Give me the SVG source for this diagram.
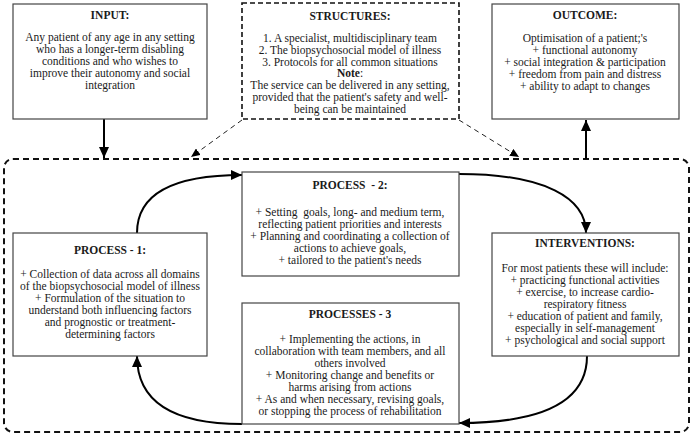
<svg xmlns="http://www.w3.org/2000/svg" width="692" height="436" viewBox="0 0 692 436">
<style>
text{font-family:"Liberation Serif","Times New Roman",serif;font-size:11.5px;fill:#1a1a1a;text-anchor:middle;white-space:pre}
.t{font-weight:bold}
.box{fill:#fff;stroke:#444;stroke-width:1.2}
.dbox{fill:#fff;stroke:#111;stroke-width:1.6;stroke-dasharray:5 3}
.outer{fill:none;stroke:#111;stroke-width:2;stroke-dasharray:6 4}
.c{fill:none;stroke:#000;stroke-width:2}
.d{fill:none;stroke:#222;stroke-width:1;stroke-dasharray:5 4}
</style>
<defs>
<marker id="ah" markerUnits="userSpaceOnUse" markerWidth="12" markerHeight="10" refX="11" refY="5" orient="auto">
<path d="M0,0 L11,5 L0,10 Z" fill="#000"/>
</marker>
<marker id="ahs" markerUnits="userSpaceOnUse" markerWidth="10" markerHeight="8" refX="9" refY="4" orient="auto">
<path d="M0,0 L9,4 L0,8 Z" fill="#000"/>
</marker>
</defs>

<rect id="system" class="outer" x="4" y="159" width="685" height="273" rx="9"/>

<g id="connectors">
<path class="c" d="M104,119 L104,158" marker-end="url(#ah)"/>
<path class="c" d="M586,159 L586,120" marker-end="url(#ah)"/>
<path class="d" d="M242,120 L191,157" marker-end="url(#ahs)"/>
<path class="d" d="M459,120 L519,157" marker-end="url(#ahs)"/>
<path class="c" d="M137,233 C137,195 170,175 242,175" marker-end="url(#ah)"/>
<path class="c" d="M459,174 C545,174 586,198 586,233" marker-end="url(#ah)"/>
<path class="c" d="M587,356 C587,400 545,423 459,423" marker-end="url(#ah)"/>
<path class="c" d="M242,424 C170,424 137,400 137,356" marker-end="url(#ah)"/>
</g>

<g id="input">
<rect class="box" x="13" y="4" width="194" height="115"/>
<text class="t" x="110" y="19">INPUT:</text>
<text x="110" y="41">Any patient of any age in any setting</text>
<text x="110" y="53">who has a longer-term disabling</text>
<text x="110" y="65">conditions and who wishes to</text>
<text x="110" y="77">improve their autonomy and social</text>
<text x="110" y="89">integration</text>
</g>

<g id="structures">
<rect class="dbox" x="242" y="3" width="217" height="116"/>
<text class="t" x="350" y="20">STRUCTURES:</text>
<text x="350" y="42">1. A specialist, multidisciplinary team</text>
<text x="350" y="54">2. The biopsychosocial model of illness</text>
<text x="350" y="66">3. Protocols for all common situations</text>
<text x="350" y="77"><tspan class="t">Note</tspan>:</text>
<text x="350" y="89">The service can be delivered in any setting,</text>
<text x="350" y="101">provided that the patient's safety and well-</text>
<text x="350" y="113">being can be maintained</text>
</g>

<g id="outcome">
<rect class="box" x="492" y="4" width="187" height="115"/>
<text class="t" x="585" y="19">OUTCOME:</text>
<text x="585" y="42">Optimisation of a patient;'s</text>
<text x="585" y="54">+ functional autonomy</text>
<text x="585" y="66">+ social integration &amp; participation</text>
<text x="585" y="78">+ freedom from pain and distress</text>
<text x="585" y="90">+ ability to adapt to changes</text>
</g>

<g id="process1">
<rect class="box" x="13" y="233" width="194" height="123"/>
<text class="t" x="110" y="254">PROCESS - 1:</text>
<text x="110" y="278">+ Collection of data across all domains</text>
<text x="110" y="290">of the biopsychosocial model of illness</text>
<text x="110" y="302">+ Formulation of the situation to</text>
<text x="110" y="314">understand both influencing factors</text>
<text x="110" y="326">and prognostic or treatment-</text>
<text x="110" y="338">determining factors</text>
</g>

<g id="process2">
<rect class="box" x="242" y="172" width="217" height="104"/>
<text class="t" x="350" y="189">PROCESS  - 2:</text>
<text x="350" y="216">+ Setting  goals, long- and medium term,</text>
<text x="350" y="228">reflecting patient priorities and interests</text>
<text x="350" y="240">+ Planning and coordinating a collection of</text>
<text x="350" y="252">actions to achieve goals,</text>
<text x="350" y="264">+ tailored to the patient's needs</text>
</g>

<g id="process3">
<rect class="box" x="242" y="303" width="217" height="121"/>
<text class="t" x="350" y="318">PROCESSES - 3</text>
<text x="350" y="343">+ Implementing the actions, in</text>
<text x="350" y="355">collaboration with team members, and all</text>
<text x="350" y="367">others involved</text>
<text x="350" y="379">+ Monitoring change and benefits or</text>
<text x="350" y="391">harms arising from actions</text>
<text x="350" y="403">+ As and when necessary, revising goals,</text>
<text x="350" y="415">or stopping the process of rehabilitation</text>
</g>

<g id="interventions">
<rect class="box" x="492" y="233" width="187" height="123"/>
<text class="t" x="585" y="247">INTERVENTIONS:</text>
<text x="585" y="272">For most patients these will include:</text>
<text x="585" y="284">+ practicing functional activities</text>
<text x="585" y="296">+ exercise, to increase cardio-</text>
<text x="585" y="308">respiratory fitness</text>
<text x="585" y="320">+ education of patient and family,</text>
<text x="585" y="332">especially in self-management</text>
<text x="585" y="344">+ psychological and social support</text>
</g>
</svg>
